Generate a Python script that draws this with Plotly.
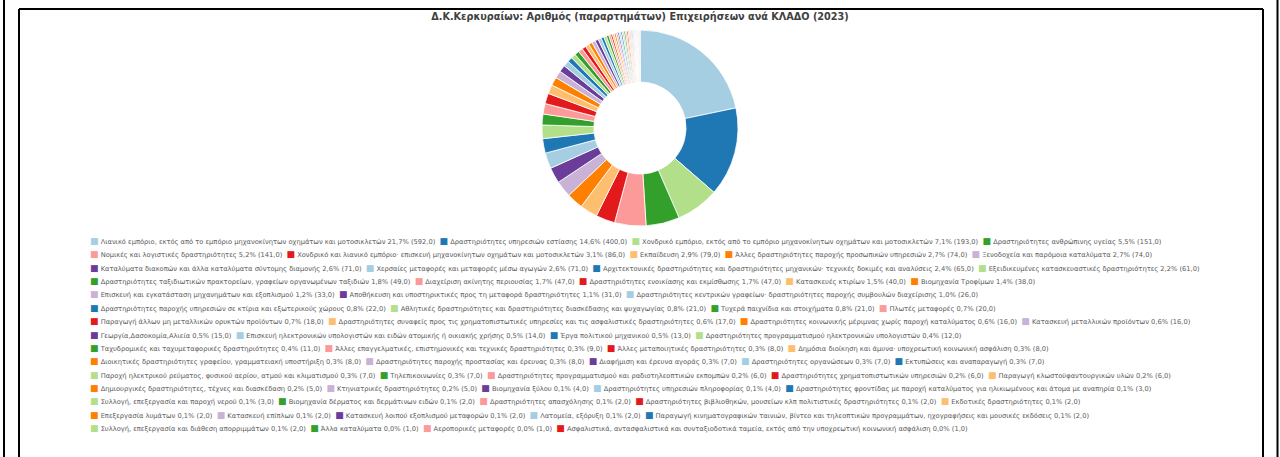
import plotly.graph_objects as go

TITLE = "Δ.Κ.Κερκυραίων: Αριθμός (παραρτημάτων) Επιχειρήσεων ανά ΚΛΑΔΟ (2023)"

CATEGORIES = [
    "Λιανικό εμπόριο, εκτός από το εμπόριο μηχανοκίνητων οχημάτων και μοτοσικλετών",
    "Δραστηριότητες υπηρεσιών εστίασης",
    "Χονδρικό εμπόριο, εκτός από το εμπόριο μηχανοκίνητων οχημάτων και μοτοσικλετών",
    "Δραστηριότητες ανθρώπινης υγείας",
    "Νομικές και λογιστικές δραστηριότητες",
    "Χονδρικό και λιανικό εμπόριο· επισκευή μηχανοκίνητων οχημάτων και μοτοσικλετών",
    "Εκπαίδευση",
    "Άλλες δραστηριότητες παροχής προσωπικών υπηρεσιών",
    "Ξενοδοχεία και παρόμοια καταλύματα",
    "Καταλύματα διακοπών και άλλα καταλύματα σύντομης διαμονής",
    "Χερσαίες μεταφορές και μεταφορές μέσω αγωγών",
    "Αρχιτεκτονικές δραστηριότητες και δραστηριότητες μηχανικών· τεχνικές δοκιμές και αναλύσεις",
    "Εξειδικευμένες κατασκευαστικές δραστηριότητες",
    "Δραστηριότητες ταξιδιωτικών πρακτορείων, γραφείων οργανωμένων ταξιδιών",
    "Διαχείριση ακίνητης περιουσίας",
    "Δραστηριότητες ενοικίασης και εκμίσθωσης",
    "Κατασκευές κτιρίων",
    "Βιομηχανία Τροφίμων",
    "Επισκευή και εγκατάσταση μηχανημάτων και εξοπλισμού",
    "Αποθήκευση και υποστηρικτικές προς τη μεταφορά δραστηριότητες",
    "Δραστηριότητες κεντρικών γραφείων· δραστηριότητες παροχής συμβουλών διαχείρισης",
    "Δραστηριότητες παροχής υπηρεσιών σε κτίρια και εξωτερικούς χώρους",
    "Αθλητικές δραστηριότητες και δραστηριότητες διασκέδασης και ψυχαγωγίας",
    "Τυχερά παιχνίδια και στοιχήματα",
    "Πλωτές μεταφορές",
    "Παραγωγή άλλων μη μεταλλικών ορυκτών προϊόντων",
    "Δραστηριότητες συναφείς προς τις χρηματοπιστωτικές υπηρεσίες και τις ασφαλιστικές δραστηριότητες",
    "Δραστηριότητες κοινωνικής μέριμνας χωρίς παροχή καταλύματος",
    "Κατασκευή μεταλλικών προϊόντων",
    "Γεωργία,Δασοκομία,Αλιεία",
    "Επισκευή ηλεκτρονικών υπολογιστών και ειδών ατομικής ή οικιακής χρήσης",
    "Έργα πολιτικού μηχανικού",
    "Δραστηριότητες προγραμματισμού ηλεκτρονικών υπολογιστών",
    "Ταχυδρομικές και ταχυμεταφορικές δραστηριότητες",
    "Άλλες επαγγελματικές, επιστημονικές και τεχνικές δραστηριότητες",
    "Άλλες μεταποιητικές δραστηριότητες",
    "Δημόσια διοίκηση και άμυνα· υποχρεωτική κοινωνική ασφάλιση",
    "Διοικητικές δραστηριότητες γραφείου, γραμματειακή υποστήριξη",
    "Δραστηριότητες παροχής προστασίας και έρευνας",
    "Διαφήμιση και έρευνα αγοράς",
    "Δραστηριότητες οργανώσεων",
    "Εκτυπώσεις και αναπαραγωγή",
    "Παροχή ηλεκτρικού ρεύματος, φυσικού αερίου, ατμού και κλιματισμού",
    "Τηλεπικοινωνίες",
    "Δραστηριότητες προγραμματισμού και ραδιοτηλεοπτικών εκπομπών",
    "Δραστηριότητες χρηματοπιστωτικών υπηρεσιών",
    "Παραγωγή κλωστοϋφαντουργικών υλών",
    "Δημιουργικές δραστηριότητες, τέχνες και διασκέδαση",
    "Κτηνιατρικές δραστηριότητες",
    "Βιομηχανία ξύλου",
    "Δραστηριότητες υπηρεσιών πληροφορίας",
    "Δραστηριότητες φροντίδας με παροχή καταλύματος για ηλικιωμένους και άτομα με αναπηρία",
    "Συλλογή, επεξεργασία και παροχή νερού",
    "Βιομηχανία δέρματος και δερμάτινων ειδών",
    "Δραστηριότητες απασχόλησης",
    "Δραστηριότητες βιβλιοθηκών, μουσείων κλπ πολιτιστικές δραστηριότητες",
    "Εκδοτικές δραστηριότητες",
    "Επεξεργασία λυμάτων",
    "Κατασκευή επίπλων",
    "Κατασκευή λοιπού εξοπλισμού μεταφορών",
    "Λατομεία, εξόρυξη",
    "Παραγωγή κινηματογραφικών ταινιών, βίντεο και τηλεοπτικών προγραμμάτων, ηχογραφήσεις και μουσικές εκδόσεις",
    "Συλλογή, επεξεργασία και διάθεση απορριμμάτων",
    "Άλλα καταλύματα",
    "Αεροπορικές μεταφορές",
    "Ασφαλιστικά, αντασφαλιστικά και συνταξιοδοτικά ταμεία, εκτός από την υποχρεωτική κοινωνική ασφάλιση",
]

VALUES = [592, 400, 193, 151, 141, 86, 79, 74, 74, 71, 71, 65, 61, 49, 47, 47, 40, 38,
          33, 31, 26, 22, 21, 21, 20, 18, 17, 16, 16, 15, 14, 13, 12, 11, 9, 8, 8, 8,
          8, 7, 7, 7, 7, 7, 6, 6, 6, 5, 5, 4, 4, 3, 3, 2, 2, 2, 2, 2, 2, 2, 2, 2, 2,
          1, 1, 1]

PERCENTS = [21.7, 14.6, 7.1, 5.5, 5.2, 3.1, 2.9, 2.7, 2.7, 2.6, 2.6, 2.4, 2.2, 1.8, 1.7,
            1.7, 1.5, 1.4, 1.2, 1.1, 1.0, 0.8, 0.8, 0.8, 0.7, 0.7, 0.6, 0.6, 0.6, 0.5,
            0.5, 0.5, 0.4, 0.4, 0.3, 0.3, 0.3, 0.3, 0.3, 0.3, 0.3, 0.3, 0.3, 0.3, 0.2,
            0.2, 0.2, 0.2, 0.2, 0.1, 0.1, 0.1, 0.1, 0.1, 0.1, 0.1, 0.1, 0.1, 0.1, 0.1,
            0.1, 0.1, 0.1, 0.0, 0.0, 0.0]

# legend layout (entries per row, as in the reference)
ROW_SIZES = [4, 5, 4, 5, 3, 4, 4, 4, 4, 5, 5, 5, 5, 5, 4]

PALETTE = ["#a6cee3", "#1f78b4", "#b2df8a", "#33a02c", "#fb9a99",
           "#e31a1c", "#fdbf6f", "#ff7f00", "#cab2d6", "#6a3d9a"]

W, H = 1280, 457
colors = [PALETTE[i % len(PALETTE)] for i in range(len(CATEGORIES))]


def gr(x):
    return f"{x:.1f}".replace(".", ",")


def entry(i):
    return (f'<span style="color:{colors[i]};font-size:9px">■</span>\u00a0'
            f'{CATEGORIES[i]} {gr(PERCENTS[i])}% ({gr(VALUES[i])})')


fig = go.Figure()
fig.add_trace(go.Pie(
    labels=CATEGORIES,
    values=VALUES,
    hole=0.47,
    sort=False,
    direction="clockwise",
    rotation=0,
    marker=dict(colors=colors, line=dict(color="white", width=0.8)),
    textinfo="none",
    showlegend=False,
    domain=dict(x=[0.2, 0.8], y=[1 - 226 / H, 1 - 30 / H]),
))

# legend built as rows of text
annotations = []
row_top, row_pitch = 241.0, 13.36
idx = 0
for r, n in enumerate(ROW_SIZES):
    txt = "\u00a0\u00a0".join(entry(i) for i in range(idx, idx + n))
    idx += n
    annotations.append(dict(
        text=txt, xref="paper", yref="paper", x=88 / W, y=1 - (row_top + r * row_pitch) / H,
        xanchor="left", yanchor="middle", showarrow=False, align="left",
        font=dict(family="DejaVu Sans", size=6.7, color="#595959"),
    ))

line = dict(color="black", width=2)
shapes = [
    dict(type="line", xref="paper", yref="paper", x0=4 / W, x1=4 / W, y0=0, y1=1, line=line),
    dict(type="line", xref="paper", yref="paper", x0=1277.5 / W, x1=1277.5 / W, y0=0, y1=1, line=line),
    dict(type="line", xref="paper", yref="paper", x0=19 / W, x1=1263 / W, y0=1 - 9 / H, y1=1 - 9 / H, line=line),
    dict(type="line", xref="paper", yref="paper", x0=19 / W, x1=19 / W, y0=0, y1=1 - 9 / H, line=line),
    dict(type="line", xref="paper", yref="paper", x0=1263 / W, x1=1263 / W, y0=0, y1=1 - 9 / H, line=line),
]

fig.update_layout(
    width=W, height=H,
    margin=dict(l=0, r=0, t=0, b=0),
    paper_bgcolor="white", plot_bgcolor="white",
    title=dict(text=f"<b>{TITLE}</b>", x=0.5, xanchor="center", y=1 - 17 / H, yanchor="middle",
               font=dict(family="DejaVu Sans", size=9.7, color="#404040")),
    annotations=annotations,
    shapes=shapes,
)

fig.write_html(
    "out.html",
    config={"displayModeBar": False},
    post_script="document.body.style.margin='0';document.body.style.overflow='hidden';",
)
